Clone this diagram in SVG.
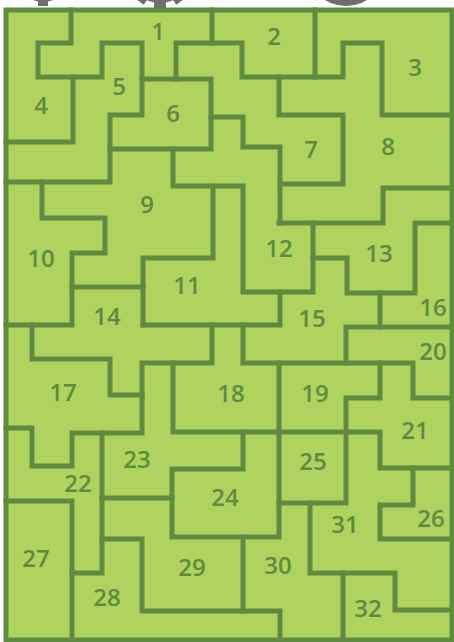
<svg xmlns="http://www.w3.org/2000/svg" width="454" height="642" viewBox="0 0 454 642">
  <style>
    .wall { fill: none; stroke: #5e8b40; stroke-width: 5; stroke-linecap: square; stroke-linejoin: miter; }
    .lbl { font-family: "Open Sans", "Liberation Sans", sans-serif; font-weight: 600; font-size: 24px; fill: #5e8b40; text-anchor: middle; dominant-baseline: central; }
    .deco { fill: #6e6e70; }
  </style>
  <rect width="454" height="642" fill="#ffffff"/>
  <g id="decorations">
    <g transform="translate(43,-26)">
      <circle class="deco" r="28"/>
      <rect class="deco" x="-5" y="24" width="10" height="8"/>
      <rect class="deco" x="-5" y="24" width="10" height="8" transform="rotate(45)"/>
      <rect class="deco" x="-5" y="24" width="10" height="8" transform="rotate(-45)"/>
    </g>
    <g transform="translate(160,-28)">
      <circle class="deco" r="31"/>
      <rect class="deco" x="-6" y="27" width="12" height="9"/>
      <rect class="deco" x="-6" y="27" width="12" height="9" transform="rotate(36)"/>
      <rect class="deco" x="-6" y="27" width="12" height="9" transform="rotate(-36)"/>
    </g>
    <circle class="deco" cx="346" cy="-34" r="40"/>
  </g>
  <rect x="6" y="10" width="446" height="630" fill="#b0d35f"/>
  <g id="walls">
    <path class="wall" d="M71,10 V43 H38 V77 H102 V43 H142 V115 H110 V182 H6"/>
    <path class="wall" d="M73,77 V142 H6"/>
    <path class="wall" d="M212,10 V43"/>
    <path class="wall" d="M176,79 V43 H242 V77 H343 V43 H382 V115 H452"/>
    <path class="wall" d="M315,10 V77"/>
    <path class="wall" d="M142,79 H211 V149 H110"/>
    <path class="wall" d="M211,117 H243 V147 H280 V184 H343 V115 H279 V77"/>
    <path class="wall" d="M280,184 V223"/>
    <path class="wall" d="M173,149 V186 H243 V292 H313 V223"/>
    <path class="wall" d="M279,223 H383 V188 H452"/>
    <path class="wall" d="M452,223 H415 V293 H347 V258 H313"/>
    <path class="wall" d="M380,293 V327"/>
    <path class="wall" d="M452,327 H346 V363"/>
    <path class="wall" d="M243,325 V363 H413 V398 H452"/>
    <path class="wall" d="M143,325 H280 V292"/>
    <path class="wall" d="M213,186 V258 H143 V325"/>
    <path class="wall" d="M72,287 H143"/>
    <path class="wall" d="M6,325 H72 V253 H105 V218 H42 V182"/>
    <path class="wall" d="M380,363 V398 H346 V503 H279"/>
    <path class="wall" d="M279,363 V537 H172 V469 H243 V432"/>
    <path class="wall" d="M173,363 V432 H380 V468 H452"/>
    <path class="wall" d="M6,428 H32 V466 H72 V433 H142 V363 H212 V325"/>
    <path class="wall" d="M32,325 V359 H110 V395 H142"/>
    <path class="wall" d="M102,433 V573 H72"/>
    <path class="wall" d="M6,501 H72 V640"/>
    <path class="wall" d="M102,498 H172"/>
    <path class="wall" d="M102,539 H142 V611 H280 V640"/>
    <path class="wall" d="M243,537 V611"/>
    <path class="wall" d="M310,503 V573 H395 V610 H452"/>
    <path class="wall" d="M343,573 V640"/>
    <path class="wall" d="M452,539 H380 V505 H413 V468"/>
    <rect class="wall" x="6" y="10" width="446" height="630"/>
  </g>
  <g id="labels" transform="translate(0,-1.5)">
  <g id="region-1"><text class="lbl" x="158" y="32">1</text></g>
  <g id="region-2"><text class="lbl" x="274" y="37">2</text></g>
  <g id="region-3"><text class="lbl" x="415" y="68">3</text></g>
  <g id="region-4"><text class="lbl" x="41" y="106">4</text></g>
  <g id="region-5"><text class="lbl" x="119" y="87">5</text></g>
  <g id="region-6"><text class="lbl" x="173" y="114">6</text></g>
  <g id="region-7"><text class="lbl" x="311" y="150">7</text></g>
  <g id="region-8"><text class="lbl" x="388" y="147">8</text></g>
  <g id="region-9"><text class="lbl" x="147" y="205">9</text></g>
  <g id="region-10"><text class="lbl" x="41" y="259">10</text></g>
  <g id="region-11"><text class="lbl" x="187" y="286">11</text></g>
  <g id="region-12"><text class="lbl" x="279" y="249">12</text></g>
  <g id="region-13"><text class="lbl" x="379" y="254">13</text></g>
  <g id="region-14"><text class="lbl" x="107" y="317">14</text></g>
  <g id="region-15"><text class="lbl" x="312" y="319">15</text></g>
  <g id="region-16"><text class="lbl" x="433" y="308">16</text></g>
  <g id="region-17"><text class="lbl" x="63" y="393">17</text></g>
  <g id="region-18"><text class="lbl" x="231" y="394">18</text></g>
  <g id="region-19"><text class="lbl" x="315" y="394">19</text></g>
  <g id="region-20"><text class="lbl" x="433" y="352">20</text></g>
  <g id="region-21"><text class="lbl" x="415" y="431">21</text></g>
  <g id="region-22"><text class="lbl" x="78" y="484">22</text></g>
  <g id="region-23"><text class="lbl" x="137" y="460">23</text></g>
  <g id="region-24"><text class="lbl" x="225" y="498">24</text></g>
  <g id="region-25"><text class="lbl" x="313" y="462">25</text></g>
  <g id="region-26"><text class="lbl" x="431" y="519">26</text></g>
  <g id="region-27"><text class="lbl" x="36" y="559">27</text></g>
  <g id="region-28"><text class="lbl" x="107" y="598">28</text></g>
  <g id="region-29"><text class="lbl" x="192" y="568">29</text></g>
  <g id="region-30"><text class="lbl" x="278" y="566">30</text></g>
  <g id="region-31"><text class="lbl" x="345" y="525">31</text></g>
  <g id="region-32"><text class="lbl" x="368" y="609">32</text></g>
  </g>
</svg>
